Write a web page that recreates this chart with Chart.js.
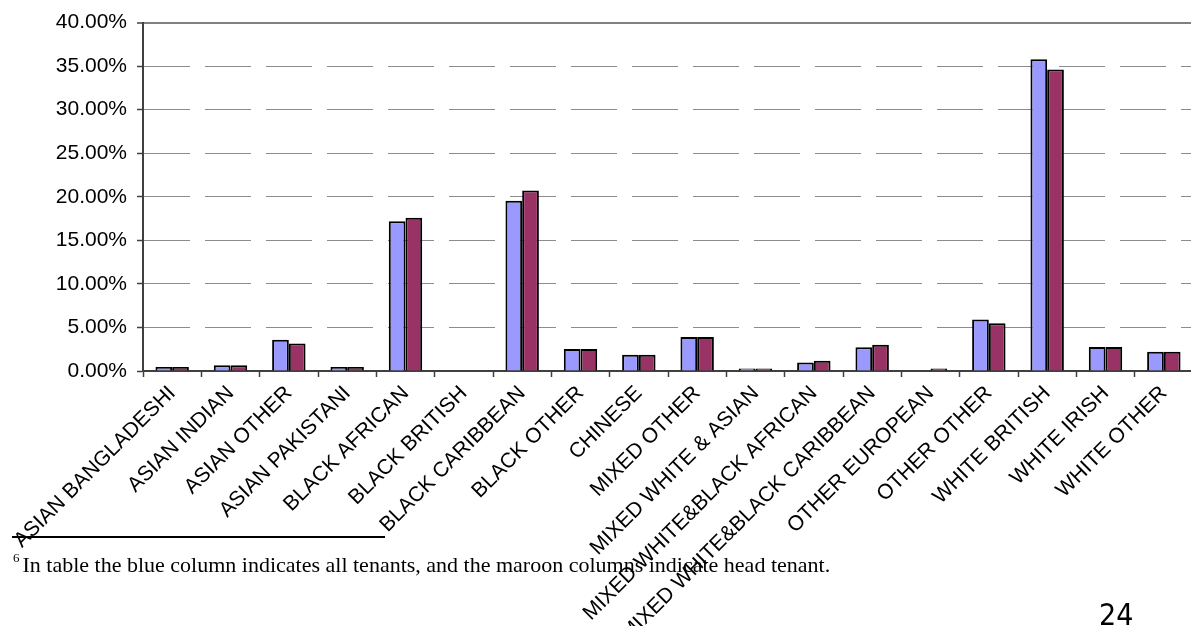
<!DOCTYPE html>
<html>
<head>
<meta charset="utf-8">
<script src="https://cdn.jsdelivr.net/npm/chart.js@4"></script>
<style>
  html, body { margin: 0; padding: 0; background: #fff; overflow: hidden; }
  #wrap { position: relative; width: 1191px; height: 626px; overflow: hidden; }
  #myChart { position: absolute; left: 0; top: 0; }
  .rule { position: absolute; left: 12px; top: 536px; width: 373px; height: 2px; background: #000; }
  .note { position: absolute; left: 13px; top: 552px; font-family: "Liberation Serif", serif; font-size: 22px; color: #000; white-space: nowrap; }
  .note sup { font-size: 13px; position: relative; top: -2px; margin-right: 3px; vertical-align: top; }
  .page { position: absolute; left: 1099px; top: 597px; font-family: "Liberation Sans Narrow", "DejaVu Sans Condensed", sans-serif; font-size: 30px; color: #000; }
</style>
</head>
<body>
<div id="wrap">
  <canvas id="myChart"></canvas>
  <div class="rule"></div>
  <div class="note"><sup>6</sup>In table the blue column indicates all tenants, and the maroon columns indicate head tenant.</div>
  <div class="page">24</div>
</div>
<script>
let categories = [
    "ASIAN BANGLADESHI", "ASIAN INDIAN", "ASIAN OTHER", "ASIAN PAKISTANI",
    "BLACK AFRICAN", "BLACK BRITISH", "BLACK CARIBBEAN", "BLACK OTHER",
    "CHINESE", "MIXED OTHER", "MIXED WHITE & ASIAN", "MIXED WHITE&BLACK AFRICAN",
    "MIXED WHITE&BLACK CARIBBEAN", "OTHER EUROPEAN", "OTHER OTHER",
    "WHITE BRITISH", "WHITE IRISH", "WHITE OTHER"
];
// blue = all tenants, maroon = head tenant (percent)
let allTenants = [0.46, 0.65, 3.6, 0.46, 17.2, 0, 19.55, 2.54, 1.88, 3.9, 0.3, 0.98, 2.73, 0, 5.9, 35.8, 2.75, 2.22];
let headTenants = [0.46, 0.65, 3.15, 0.46, 17.6, 0, 20.73, 2.54, 1.88, 3.9, 0.3, 1.17, 3.0, 0.28, 5.47, 34.62, 2.75, 2.22];
let yTicks = [0, 5, 10, 15, 20, 25, 30, 35, 40];

const canvas = document.getElementById("myChart");
canvas.width = 1194;
canvas.height = 626;
canvas.style.width = "1194px";
canvas.style.height = "626px";

const ctx = canvas.getContext("2d");
let my_chart = new Chart(ctx, {
    type: "bar",
    data: {
        labels: categories,
        datasets: [
            {
                label: "All tenants",
                data: allTenants,
                backgroundColor: "#9999FF",
                borderColor: "#000",
                borderWidth: 2,
                categoryPercentage: 0.573,
                barPercentage: 1.0,
            },
            {
                label: "Head tenant",
                data: headTenants,
                backgroundColor: "#993366",
                borderColor: "#000",
                borderWidth: 2,
                categoryPercentage: 0.573,
                barPercentage: 1.0,
            },
        ],
    },
    options: {
        responsive: false,
        animation: false,
        layout: { padding: { top: 21, right: 1, left: 0, bottom: 0 } },
        plugins: {
            legend: { display: false },
            tooltip: { enabled: false },
        },
        scales: {
            x: {
                grid: {
                    offset: true,
                    drawOnChartArea: false,
                    tickLength: 6,
                    tickColor: "#404040",
                    tickWidth: 1.5,
                },
                border: { color: "#404040", width: 2 },
                ticks: {
                    autoSkip: false,
                    minRotation: 45,
                    maxRotation: 45,
                    padding: 4,
                    color: "#000",
                    font: { family: "Liberation Sans", size: 21 },
                },
                afterFit: (scale) => {
                    scale.height = 626 - 371;
                    scale.paddingLeft = 0;
                    scale.paddingRight = 0;
                },
            },
            y: {
                min: 0,
                max: 40,
                afterBuildTicks: (scale) => {
                    scale.ticks = yTicks.map((v) => ({ value: v }));
                },
                grid: {
                    color: (c) => (c.tick && c.tick.value === 40 ? "#808080" : "#8c8c8c"),
                    lineWidth: (c) => (c.tick && c.tick.value === 40 ? 2 : 1),
                    tickLength: 6,
                    tickColor: "#404040",
                    tickWidth: 1.5,
                },
                border: {
                    color: "#404040",
                    width: 2,
                    dash: (c) => (c.tick && c.tick.value !== 40 && c.tick.value !== 0 ? [46, 15] : []),
                },
                ticks: {
                    padding: 10,
                    color: "#000",
                    font: { family: "Liberation Sans", size: 21 },
                    callback: (v) => v.toFixed(2) + "%",
                },
                afterFit: (scale) => {
                    scale.width = 143;
                },
            },
        },
    },
});
</script>
</body>
</html>
